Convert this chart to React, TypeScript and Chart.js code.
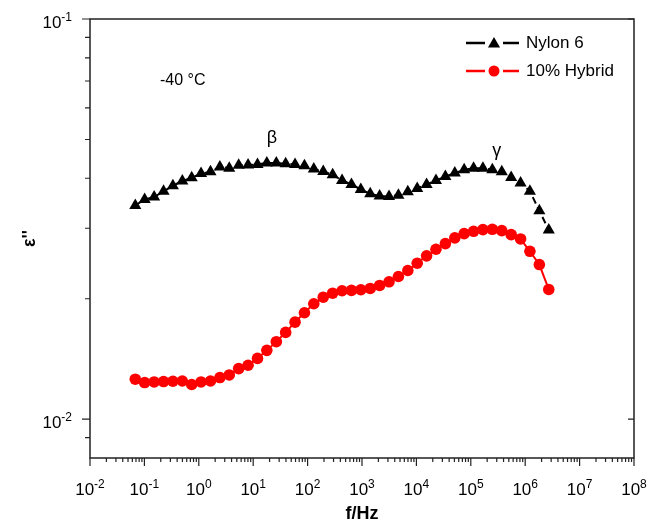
import { useEffect, useRef } from "react";
import { Chart, registerables } from "chart.js";

Chart.register(...registerables);

// Frequencies (Hz), shared by both series
const frequencies = [
  0.068, 0.101, 0.151, 0.225, 0.334, 0.498, 0.74, 1.1, 1.64, 2.44,
  3.63, 5.41, 8.05, 12.0, 17.8, 26.6, 39.5, 58.8, 87.5, 130,
  194, 289, 430, 640, 951, 1416, 2108, 3140, 4670, 6950,
  10350, 15400, 22900, 34100, 50800, 75500, 112500, 167000, 249000, 371000,
  552000, 822000, 1220000, 1820000, 2710000,
];

const nylon6 = [
  0.0342, 0.0354, 0.0359, 0.0371, 0.0383, 0.0394, 0.0401, 0.0411, 0.0415, 0.0427,
  0.0424, 0.0431, 0.0432, 0.0433, 0.0437, 0.0437, 0.0435, 0.0433, 0.043, 0.0422,
  0.0416, 0.0408, 0.0395, 0.0386, 0.0375, 0.0366, 0.0361, 0.036, 0.0363, 0.037,
  0.0377, 0.0386, 0.0395, 0.0404, 0.0412, 0.042, 0.0424, 0.0424, 0.042, 0.0415,
  0.0402, 0.0389, 0.0371, 0.0332, 0.0297,
];

const hybrid10 = [
  0.01259, 0.01235, 0.01239, 0.01242, 0.01244, 0.01246, 0.01221, 0.01239, 0.01246, 0.01271,
  0.0129, 0.01338, 0.01364, 0.01419, 0.01486, 0.01562, 0.01648, 0.01748, 0.01845, 0.01943,
  0.02018, 0.02065, 0.02094, 0.02098, 0.02106, 0.02122, 0.02159, 0.02205, 0.02273, 0.02353,
  0.02454, 0.0256, 0.02659, 0.02747, 0.02838, 0.02909, 0.02948, 0.02977, 0.02982, 0.0296,
  0.02892, 0.02821, 0.02628, 0.02435, 0.0211,
];

const seriesLabels = ["Nylon 6", "10% Hybrid"];
const xTickExponents = [-2, -1, 0, 1, 2, 3, 4, 5, 6, 7, 8];
const yTickExponents = [-2, -1];
const yMinorTicks = [0.009, 0.02, 0.03, 0.04, 0.05, 0.06, 0.07, 0.08, 0.09];
const xTitle = "f/Hz";
const yTitle = "ε''";
const tempLabel = "-40 °C";
const peakLabels = [
  { text: "β", x: 22, y: 0.0503 },
  { text: "γ", x: 300000, y: 0.0469 },
];

const FONT = '"Liberation Sans", Arial, Helvetica, sans-serif';

function drawPow(ctx: CanvasRenderingContext2D, exp: number, x: number, y: number, align: "center" | "right") {
  const base = 17;
  const sup = 12;
  ctx.font = `${base}px ${FONT}`;
  const wb = ctx.measureText("10").width;
  ctx.font = `${sup}px ${FONT}`;
  const es = String(exp);
  const ws = ctx.measureText(es).width;
  const total = wb + ws;
  const x0 = align === "center" ? x - total / 2 : x - total;
  ctx.textAlign = "left";
  ctx.textBaseline = "alphabetic";
  ctx.font = `${base}px ${FONT}`;
  ctx.fillText("10", x0, y);
  ctx.font = `${sup}px ${FONT}`;
  ctx.fillText(es, x0 + wb, y - 7);
}

const framePlugin = {
  id: "framePlugin",
  afterDraw(chart: any) {
    const ctx: CanvasRenderingContext2D = chart.ctx;
    const xs = chart.scales.x;
    const ys = chart.scales.y;
    const { left, right, top, bottom } = chart.chartArea;
    ctx.save();
    ctx.strokeStyle = "#222";
    ctx.fillStyle = "#000";
    ctx.lineWidth = 1.5;
    ctx.beginPath();
    ctx.rect(left, top, right - left, bottom - top);
    ctx.stroke();

    // x ticks
    ctx.lineWidth = 1.2;
    ctx.beginPath();
    for (const e of xTickExponents) {
      const px = xs.getPixelForValue(Math.pow(10, e));
      ctx.moveTo(px, bottom);
      ctx.lineTo(px, bottom + 8);
      if (e < 8) {
        for (let m = 2; m <= 9; m++) {
          const mx = xs.getPixelForValue(m * Math.pow(10, e));
          ctx.moveTo(mx, bottom);
          ctx.lineTo(mx, bottom + 4);
        }
      }
    }
    // y ticks
    for (const e of yTickExponents) {
      const py = ys.getPixelForValue(Math.pow(10, e));
      ctx.moveTo(left, py);
      ctx.lineTo(left - 8, py);
      ctx.moveTo(right, py);
      ctx.lineTo(right - 6, py);
    }
    for (const v of yMinorTicks) {
      const py = ys.getPixelForValue(v);
      ctx.moveTo(left, py);
      ctx.lineTo(left - 5, py);
    }
    ctx.stroke();

    // tick labels
    for (const e of xTickExponents) {
      const px = xs.getPixelForValue(Math.pow(10, e));
      drawPow(ctx, e, px, bottom + 37, "center");
    }
    for (const e of yTickExponents) {
      const py = ys.getPixelForValue(Math.pow(10, e));
      drawPow(ctx, e, left - 18, py + 9, "right");
    }

    // axis titles
    ctx.font = `bold 18px ${FONT}`;
    ctx.textAlign = "center";
    ctx.textBaseline = "middle";
    ctx.fillText(xTitle, (left + right) / 2, bottom + 56);
    ctx.save();
    ctx.translate(30, (top + bottom) / 2);
    ctx.rotate(-Math.PI / 2);
    ctx.fillText(yTitle, 0, 0);
    ctx.restore();

    // annotations
    ctx.font = `16px ${FONT}`;
    ctx.textAlign = "left";
    ctx.fillText(tempLabel, 160, 81);
    ctx.font = `18px ${FONT}`;
    ctx.textAlign = "center";
    for (const p of peakLabels) {
      ctx.fillText(p.text, xs.getPixelForValue(p.x), ys.getPixelForValue(p.y));
    }

    // legend
    const colors = ["#000", "#ff0000"];
    const ly = [43, 71];
    for (let i = 0; i < 2; i++) {
      ctx.strokeStyle = colors[i];
      ctx.fillStyle = colors[i];
      ctx.lineWidth = 2.5;
      ctx.beginPath();
      ctx.moveTo(466, ly[i]);
      ctx.lineTo(485, ly[i]);
      ctx.moveTo(503, ly[i]);
      ctx.lineTo(519, ly[i]);
      ctx.stroke();
      ctx.beginPath();
      if (i === 0) {
        const r = 7;
        const cx = 494;
        const cy = ly[i] + 1;
        ctx.moveTo(cx, cy - r);
        ctx.lineTo(cx + r * 0.866, cy + r * 0.5);
        ctx.lineTo(cx - r * 0.866, cy + r * 0.5);
        ctx.closePath();
      } else {
        ctx.arc(494, ly[i], 5.5, 0, Math.PI * 2);
      }
      ctx.fill();
      ctx.fillStyle = "#000";
      ctx.font = `17px ${FONT}`;
      ctx.textAlign = "left";
      ctx.textBaseline = "middle";
      ctx.fillText(seriesLabels[i], 526, ly[i]);
    }
    ctx.restore();
  },
};

export default function App() {
  const canvasRef = useRef<HTMLCanvasElement | null>(null);

  useEffect(() => {
    document.body.style.margin = "0";
    const canvas = canvasRef.current;
    if (!canvas) return;
    const chart = new Chart(canvas, {
      type: "line",
      data: {
        datasets: [
          {
            label: seriesLabels[0],
            data: frequencies.map((f, i) => ({ x: f, y: nylon6[i] })),
            borderColor: "#000",
            backgroundColor: "#000",
            borderWidth: 2,
            borderDash: [7, 4],
            pointStyle: "triangle",
            pointRadius: 7,
            pointBorderWidth: 0,
            pointBackgroundColor: "#000",
            tension: 0,
          },
          {
            label: seriesLabels[1],
            data: frequencies.map((f, i) => ({ x: f, y: hybrid10[i] })),
            borderColor: "#ff0000",
            backgroundColor: "#ff0000",
            borderWidth: 2,
            pointStyle: "circle",
            pointRadius: 5.8,
            pointBorderWidth: 0,
            pointBackgroundColor: "#ff0000",
            tension: 0,
          },
        ],
      },
      options: {
        animation: false,
        responsive: true,
        maintainAspectRatio: false,
        layout: { padding: { left: 90, top: 19, right: 14, bottom: 67 } },
        plugins: {
          legend: { display: false },
          tooltip: { enabled: false },
        },
        scales: {
          x: { type: "logarithmic", display: false, min: 0.01, max: 1e8 },
          y: { type: "logarithmic", display: false, min: 0.008, max: 0.1 },
        },
      },
      plugins: [framePlugin],
    });
    return () => chart.destroy();
  }, []);

  return (
    <div style={{ position: "absolute", left: 0, top: 0, width: 648, height: 525, background: "#fff" }}>
      <canvas ref={canvasRef} />
    </div>
  );
}
